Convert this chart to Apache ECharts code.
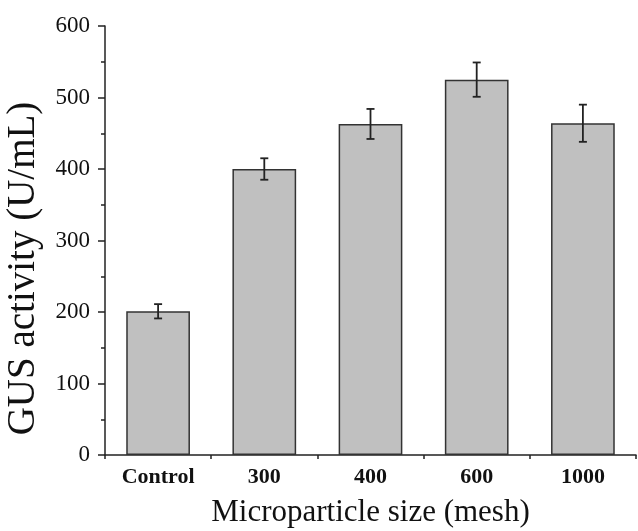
<!DOCTYPE html>
<html>
<head>
  <meta charset="utf-8">
  <title>GUS activity</title>
  <script src="https://cdn.jsdelivr.net/npm/echarts@6/dist/echarts.min.js"></script>
  <style>
    html, body { margin: 0; padding: 0; background: #fff; }
    #chart { width: 638px; height: 531px; }
  </style>
</head>
<body>
  <div id="chart"></div>
  <script type="text/javascript">
// data
var categories = ['Control', '300', '400', '600', '1000'];
var gusMean = [201, 400, 463, 525, 464];
var gusErr = [10, 15, 21, 24, 26];
var yTicks = { min: 0, max: 600, interval: 100 };

var errData = [];
for (var i = 0; i < categories.length; i++) {
  errData.push([i, gusMean[i] - gusErr[i], gusMean[i] + gusErr[i]]);
}

var serif = 'Liberation Serif';
var chart = echarts.init(document.getElementById('chart'));

var option = {
  backgroundColor: '#fff',
  animation: false,
  grid: { left: 105, right: 2, top: 26, bottom: 76, containLabel: false, outerBoundsMode: 'none' },
  xAxis: [
    {
      type: 'category',
      data: categories,
      name: 'Microparticle size (mesh)',
      nameLocation: 'middle',
      nameGap: 42,
      nameTextStyle: { fontFamily: serif, fontSize: 31, color: '#111' },
      axisLine: { lineStyle: { color: '#222', width: 1.5 } },
      axisTick: { alignWithLabel: true, length: 6, lineStyle: { color: '#222', width: 1.5 } },
      axisLabel: { fontFamily: serif, fontSize: 22, fontWeight: 'bold', color: '#111', margin: 11 }
    },
    {
      // boundary ticks between categories
      type: 'category',
      data: categories,
      position: 'bottom',
      axisLine: { show: false },
      axisTick: { show: true, length: 4, lineStyle: { color: '#222', width: 1.5 } },
      axisLabel: { show: false },
      splitLine: { show: false }
    }
  ],
  yAxis: {
    type: 'value',
    min: yTicks.min,
    max: yTicks.max,
    interval: yTicks.interval,
    name: 'GUS activity (U/mL)',
    nameLocation: 'middle',
    nameGap: 62,
    nameTextStyle: { fontFamily: serif, fontSize: 39, color: '#111', padding: [0, 56, 0, 0] },
    axisLine: { show: true, lineStyle: { color: '#222', width: 1.5 } },
    axisTick: { show: true, length: 7, lineStyle: { color: '#222', width: 1.5 } },
    minorTick: { show: true, splitNumber: 2, length: 4, lineStyle: { color: '#222', width: 1.5 } },
    splitLine: { show: false },
    axisLabel: { fontFamily: serif, fontSize: 23, color: '#111', margin: 15 }
  },
  series: [
    {
      type: 'bar',
      data: gusMean,
      barWidth: '60%',
      itemStyle: { color: '#c0c0c0', borderColor: '#333', borderWidth: 1.5 }
    },
    {
      type: 'custom',
      data: errData,
      z: 10,
      renderItem: function (params, api) {
        var x = api.value(0);
        var lo = api.coord([x, api.value(1)]);
        var hi = api.coord([x, api.value(2)]);
        var half = 4;
        var style = { stroke: '#222', lineWidth: 1.8 };
        return {
          type: 'group',
          children: [
            { type: 'line', shape: { x1: hi[0], y1: hi[1], x2: lo[0], y2: lo[1] }, style: style },
            { type: 'line', shape: { x1: hi[0] - half, y1: hi[1], x2: hi[0] + half, y2: hi[1] }, style: style },
            { type: 'line', shape: { x1: lo[0] - half, y1: lo[1], x2: lo[0] + half, y2: lo[1] }, style: style }
          ]
        };
      }
    }
  ]
};

chart.setOption(option);
  </script>
</body>
</html>
